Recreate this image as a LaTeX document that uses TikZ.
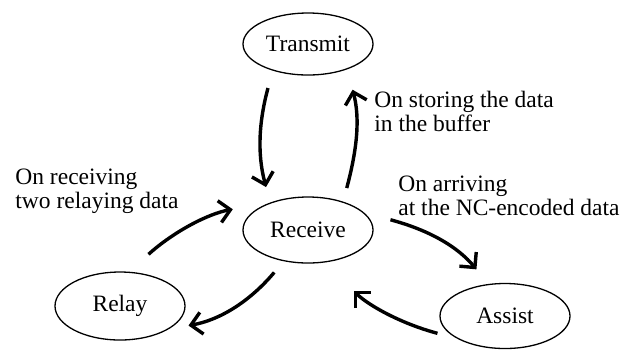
\documentclass[tikz,border=0pt]{standalone}
\usepackage{fontspec}
\setmainfont{Liberation Serif}
\usepackage{tikz}
\usetikzlibrary{arrows.meta,shapes.geometric}

\begin{document}
\begin{tikzpicture}[x=0.5pt, y=0.5pt]
        % Style for the states: thin black ellipses
        \tikzstyle{state} = [
            ellipse,
            draw=black,
            line width=0.65pt,
            minimum width=65pt,
            minimum height=33pt,
            inner sep=0pt,
            font=\fontsize{11.75}{11.75}\selectfont
        ]
        % Style for the transitions: thick curved arrows
        \tikzstyle{trans} = [
            line width=1.7pt,
            -{Straight Barb[length=5.5pt, width=11pt]}
        ]
        % Style for the transition notes
        \tikzstyle{note} = [
            anchor=north west,
            inner sep=0pt,
            align=left,
            font=\fontsize{11.75}{11.75}\selectfont
        ]

        \useasboundingbox (0,0) rectangle (637,-350);

        % The four states
        \node[state, minimum height=31pt] (transmit) at (308,-44) {Transmit};
        \node[state] (receive) at (308,-230) {Receive};
        \node[state, minimum height=34pt] (relay) at (120,-306) {Relay};
        \node[state, minimum height=32.5pt] (assist) at (505,-316) {Assist};

        % Transitions between the states
        \draw[trans, shorten <=9pt, shorten >=8pt] (transmit.217) to[out=255, in=105] (receive.144);
        \draw[trans, shorten <=7pt, shorten >=10.5pt] (receive.39) to[out=75, in=285] (transmit.327);
        \draw[trans, shorten <=13.5pt, shorten >=9.5pt] (receive.17) to[out=-15, in=130] (assist.117);
        \draw[trans, shorten <=10pt, shorten >=20pt] (assist.205) to[out=165, in=315] (receive.298);
        \draw[trans, shorten <=7.3pt, shorten >=9.8pt] (receive.232) to[out=230, in=10] (relay.335);
        \draw[trans, shorten <=13pt, shorten >=18.5pt] (relay.75) to[out=42, in=190] (receive.145);

        % Notes next to the transitions
        \node[note] (storing) at (374,-91) {On storing the data\\in the buffer};
        \node[note] (arriving) at (398,-176) {On arriving\\at the NC-encoded data};
        \node[note] (receiving) at (15,-169) {On receiving\\two relaying data};

    \end{tikzpicture}
\end{document}
